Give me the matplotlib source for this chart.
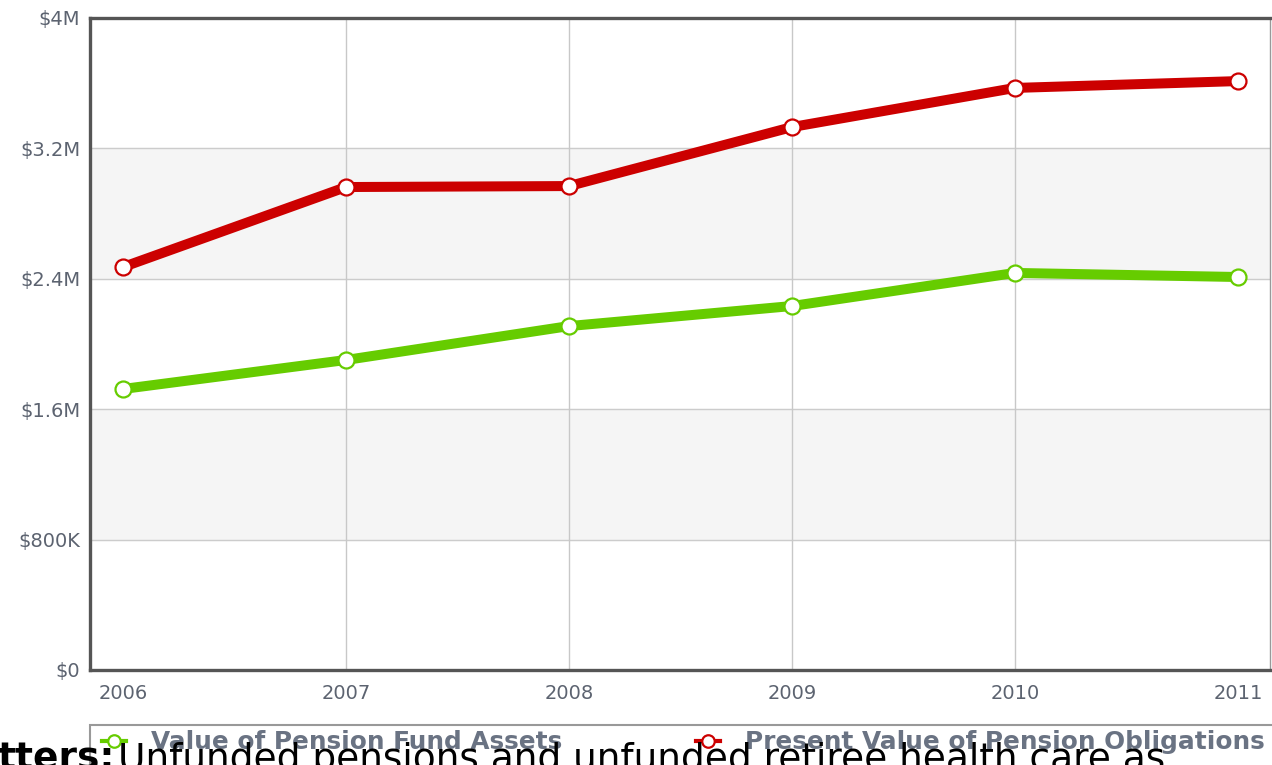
import matplotlib.pyplot as plt
from matplotlib.lines import Line2D
from matplotlib.patches import Rectangle

years = ['2006', '2007', '2008', '2009', '2010', '2011']
assets = [1.724, 1.902, 2.110, 2.233, 2.436, 2.411]        # $M
obligations = [2.472, 2.963, 2.969, 3.331, 3.571, 3.613]   # $M
y_ticks = [0, 0.8, 1.6, 2.4, 3.2, 4.0]
y_labels = ['$0', '$800K', '$1.6M', '$2.4M', '$3.2M', '$4M']
series_names = ['Value of Pension Fund Assets', 'Present Value of Pension Obligations']

green = '#66cc00'
red = '#cc0000'
txt = '#5c6370'

fig = plt.figure(figsize=(12.72, 7.65), dpi=100)
ax = fig.add_axes([90 / 1272, 1 - 670 / 765, 1180 / 1272, 652 / 765])

x = list(range(len(years)))

# alternating bands and grid
for lo, hi in [(0.8, 1.6), (2.4, 3.2)]:
    ax.axhspan(lo, hi, color='#f5f5f5', zorder=0)
for yv in y_ticks[1:-1]:
    ax.axhline(yv, color='#cccccc', lw=1, zorder=1)
for xv in x[1:-1]:
    ax.axvline(xv, color='#c8c8c8', lw=1, zorder=1)

ax.plot(x, obligations, color=red, lw=7.2, marker='o', ms=11.5,
        mfc='white', mec=red, mew=1.6, zorder=3, solid_joinstyle='round')
ax.plot(x, assets, color=green, lw=7.2, marker='o', ms=11.5,
        mfc='white', mec=green, mew=1.6, zorder=3, solid_joinstyle='round')

ax.set_xlim(-0.148, 5.143)
ax.set_ylim(0, 4.0)
ax.set_xticks(x)
ax.set_xticklabels(years)
ax.set_yticks(y_ticks)
ax.set_yticklabels(y_labels)
ax.tick_params(length=0, labelsize=14, colors=txt)
ax.tick_params(axis='x', pad=10)
ax.tick_params(axis='y', pad=7)

for side in ['left', 'top', 'bottom']:
    ax.spines[side].set_color('#555555')
    ax.spines[side].set_linewidth(2.4)
ax.spines['right'].set_color('#999999')
ax.spines['right'].set_linewidth(1)

# legend box, runs off the bottom/right of the screenshot
fig.add_artist(Rectangle((90 / 1272, -0.1), 1.0, 0.1 + 1 - 725 / 765,
                         transform=fig.transFigure, fill=False,
                         edgecolor='#999999', lw=1.5, zorder=1))

handles = [Line2D([], [], color=green, lw=3, marker='o', ms=9, mfc='white', mec=green, mew=1.6),
           Line2D([], [], color=red, lw=3, marker='o', ms=9, mfc='white', mec=red, mew=1.6)]
leg = ax.legend(handles, series_names, loc='upper left', ncol=2,
                bbox_to_anchor=(90 / 1272, 1 - 718 / 765), bbox_transform=fig.transFigure,
                prop={'weight': 'bold', 'size': 17.8}, labelcolor='#6a7383',
                frameon=False, handlelength=0.97, handletextpad=1.0,
                columnspacing=5.4, borderpad=0.5, borderaxespad=0)

# overlapping page text from the screenshot
fig.text(-2 / 1272, 1 - 770 / 765, 'tters:', fontsize=27, weight='bold',
         color='black', va='baseline', ha='left', zorder=5)
fig.text(118 / 1272, 1 - 770 / 765, 'Unfunded pensions and unfunded retiree health care as',
         fontsize=27, color='black', va='baseline', ha='left', zorder=5)

fig.savefig('out.png', dpi=100)
